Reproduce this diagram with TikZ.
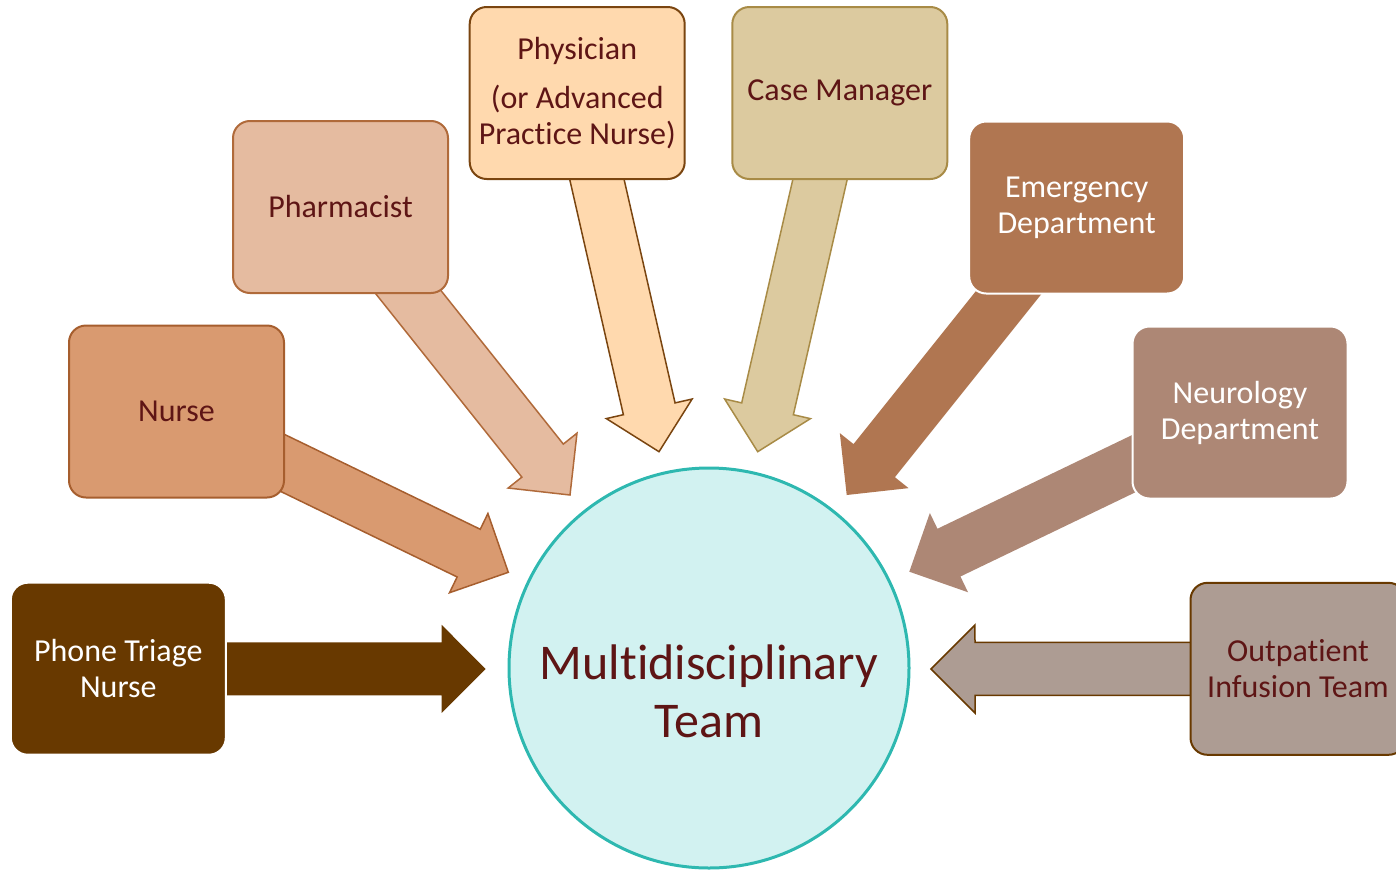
\documentclass[tikz,border=0pt]{standalone}
\usepackage{fontspec}
\setmainfont{Carlito}[Ligatures=NoCommon]
\usetikzlibrary{calc}
\definecolor{txtred}{HTML}{5E1515}
\definecolor{cPhone}{HTML}{683900}
\definecolor{cNurse}{HTML}{D99A70}
\definecolor{cNurseB}{HTML}{A65E2E}
\definecolor{cPharm}{HTML}{E5BBA0}
\definecolor{cPharmB}{HTML}{B06A3A}
\definecolor{cPhys}{HTML}{FFD9AE}
\definecolor{cPhysB}{HTML}{7A4510}
\definecolor{cCase}{HTML}{DCCA9F}
\definecolor{cCaseB}{HTML}{A88B46}
\definecolor{cEmerg}{HTML}{B07651}
\definecolor{cNeuro}{HTML}{AD8775}
\definecolor{cOut}{HTML}{AD9C93}
\definecolor{cCircle}{HTML}{D2F2F1}
\definecolor{cTeal}{HTML}{2EB8B0}
\newcommand\blockarrow[3]{%
  \coordinate (ba-b) at ($(#2)!44pt!(#1)$);
  \path[arr,#3] ($(#1)!26.5pt!90:(#2)$) -- ($(ba-b)!26.5pt!90:(#2)$) -- ($(ba-b)!44pt!90:(#2)$)
    -- (#2) -- ($(ba-b)!44pt!-90:(#2)$) -- ($(ba-b)!26.5pt!-90:(#2)$) -- ($(#1)!26.5pt!-90:(#2)$) -- cycle;
}
\tikzset{
  box/.style={rounded corners=17pt, minimum width=215pt, minimum height=172pt, align=center,
    line width=2pt, font=\fontsize{32}{36}\selectfont, inner sep=0pt, text=txtred},
  arr/.style={line width=1.5pt, line join=miter},
}
\begin{document}
\begin{tikzpicture}[x=1pt,y=-1pt]
\useasboundingbox (0,0) rectangle (1396,870);
\clip (0,0) rectangle (1396,870);
% anchor points for node positions (arrows drawn first)
\path (118.3,668.7) coordinate (pphone) (176.5,411.5) coordinate (pnurse)
      (340.5,207) coordinate (ppharm) (577.2,93) coordinate (pphys)
      (839.8,93) coordinate (pcase) (1076.7,207.5) coordinate (pemerg)
      (1240,412.5) coordinate (pneuro) (1298,668.8) coordinate (pout);
\coordinate (tphone) at (485.7,669);
\coordinate (tnurse) at (508.3,572.3);
\coordinate (tpharm) at (570,495);
\coordinate (tphys) at (659,451.7);
\coordinate (tcase) at (757.7,451.7);
\coordinate (temerg) at (846.7,495);
\coordinate (tneuro) at (909.3,571.7);
\coordinate (tout) at (931,669);
\blockarrow{pphone}{tphone}{fill=cPhone}
\blockarrow{pnurse}{tnurse}{fill=cNurse,draw=cNurseB}
\blockarrow{ppharm}{tpharm}{fill=cPharm,draw=cPharmB}
\blockarrow{pphys}{tphys}{fill=cPhys,draw=cPhysB}
\blockarrow{pcase}{tcase}{fill=cCase,draw=cCaseB}
\blockarrow{pemerg}{temerg}{fill=cEmerg}
\blockarrow{pneuro}{tneuro}{fill=cNeuro}
\blockarrow{pout}{tout}{fill=cOut,draw=cPhone}
\node[box, fill=cPhone, draw=white, text=white] (phone) at (pphone) {Phone Triage\\Nurse};
\node[box, fill=cNurse, draw=cNurseB] (nurse) at (pnurse) {Nurse};
\node[box, fill=cPharm, draw=cPharmB] (pharm) at (ppharm) {Pharmacist};
\node[box, fill=cPhys, draw=cPhysB] (phys) at (pphys) {Physician\\[13pt](or Advanced\\Practice Nurse)};
\node[box, fill=cCase, draw=cCaseB] (case) at (pcase) {Case Manager};
\node[box, fill=cEmerg, draw=white, text=white] (emerg) at (pemerg) {Emergency\\Department};
\node[box, fill=cNeuro, draw=white, text=white] (neuro) at (pneuro) {Neurology\\Department};
\node[box, fill=cOut, draw=cPhone] (out) at (pout) {Outpatient\\Infusion Team};
\node[circle, minimum size=400pt, fill=cCircle, draw=cTeal, line width=3pt, inner sep=0pt] (team) at (709,668) {};
\node[text=txtred, font=\fontsize{50}{58}\selectfont, align=center, inner sep=0pt] (teamtext) at ($(team.center)+(0,23)$) {Multidisciplinary\\Team};
\end{tikzpicture}
\end{document}
